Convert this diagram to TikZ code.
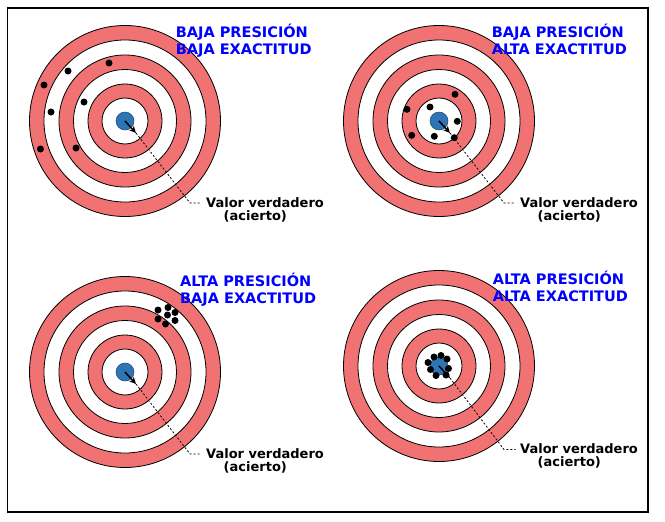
\documentclass[tikz,border=0pt]{standalone}
\usepackage{fontspec}
\setmainfont{DejaVu Sans}
\usetikzlibrary{arrows.meta}
\definecolor{ringred}{RGB}{240,114,114}
\definecolor{bullblue}{RGB}{46,117,182}
\definecolor{titleblue}{RGB}{0,0,255}
\tikzset{
  redring/.style={fill=ringred,draw=black,line width=0.8pt},
  whitering/.style={fill=white,draw=black,line width=0.8pt},
  bull/.style={circle,fill=bullblue,draw=bullblue!60!black,line width=0.5pt,minimum size=18pt,inner sep=0pt},
  shot/.style={fill=black},
  title/.style={anchor=base west,inner sep=0pt,align=left,text=titleblue,font=\bfseries\fontsize{14.5}{17}\selectfont},
  truth/.style={anchor=base west,inner sep=0pt,align=left,font=\bfseries\fontsize{13}{13.3}\selectfont},
  dart/.style={line width=1.5pt,-{Stealth[length=7pt,width=6.5pt]}},
  leader/.style={dash pattern=on 2pt off 2pt,line width=0.8pt},
  frame/.style={line width=1.2pt,draw=black},
}
\newcommand\drawtarget[3]{%
  \filldraw[redring] (#2,#3) circle (95.5pt);
  \filldraw[whitering] (#2,#3) circle (81pt);
  \filldraw[redring] (#2,#3) circle (66pt);
  \filldraw[whitering] (#2,#3) circle (51.5pt);
  \filldraw[redring] (#2,#3) circle (37pt);
  \filldraw[whitering] (#2,#3) circle (23pt);
  \node[bull] (#1) at (#2,#3) {};
}
\begin{document}
\begin{tikzpicture}[x=1pt,y=-1pt]
\useasboundingbox (0,0) rectangle (665,522);
\fill[white] (0,0) rectangle (665,522);
\draw[frame] (7.5,8) rectangle (648,512);

% targets
\drawtarget{t1}{125}{121}
\drawtarget{t2}{439}{121}
\drawtarget{t3}{125}{372}
\drawtarget{t4}{439}{366}

% shots
\foreach \p in {(109,63),(68,71),(44,85),(84,102),(51,112),(40.5,149),(76,148)}
  \fill[shot] \p circle (3.5pt);
\foreach \p in {(455,94.3),(430,107),(407,109.3),(457.3,121.3),(411.7,135.3),(434.3,136.3),(454.3,137.7)}
  \fill[shot] \p circle (3.5pt);
\foreach \p in {(168,307.5),(158,310),(175,312.5),(167.5,315),(158,319),(175,320.5),(165.5,324)}
  \fill[shot] \p circle (3.5pt);
\foreach \p in {(434,357),(441,355.5),(447,359),(428,362.5),(448.5,368.5),(430.5,369.5),(436,375.5),(446,375)}
  \fill[shot] \p circle (3.5pt);

% titles (anchor = baseline of the last line)
\node[title] (h1) at (175.7,54) {BAJA PRESICIÓN\\BAJA EXACTITUD};
\node[title] (h2) at (491.7,54) {BAJA PRESICIÓN\\ALTA EXACTITUD};
\node[title] (h3) at (180,303) {ALTA PRESICIÓN\\BAJA EXACTITUD};
\node[title] (h4) at (492.7,301) {ALTA PRESICIÓN\\ALTA EXACTITUD};

% true value labels (anchor = baseline of the last line)
\node[truth] (v1) at (206,220.3) {Valor verdadero\\\hspace*{17.5pt}(acierto)};
\node[truth] (v2) at (520,220.3) {Valor verdadero\\\hspace*{17.5pt}(acierto)};
\node[truth] (v3) at (206,471.3) {Valor verdadero\\\hspace*{17.5pt}(acierto)};
\node[truth] (v4) at (520,466.8) {Valor verdadero\\\hspace*{17.5pt}(acierto)};

% darts and leaders
\coordinate (a1) at (136,133); \coordinate (k1) at (190,203);
\coordinate (a2) at (450,133); \coordinate (k2) at (504,203);
\coordinate (a3) at (136,384); \coordinate (k3) at (190,454);
\coordinate (a4) at (450,378); \coordinate (k4) at (504,449.5);
\foreach \i in {1,2,3,4}{
  \draw[dart] (t\i.center) -- (a\i);
  \draw[leader] (a\i) -- (k\i) -- ([xshift=-4.5pt,yshift=17.3pt]v\i.base west);
}
\end{tikzpicture}
\end{document}
